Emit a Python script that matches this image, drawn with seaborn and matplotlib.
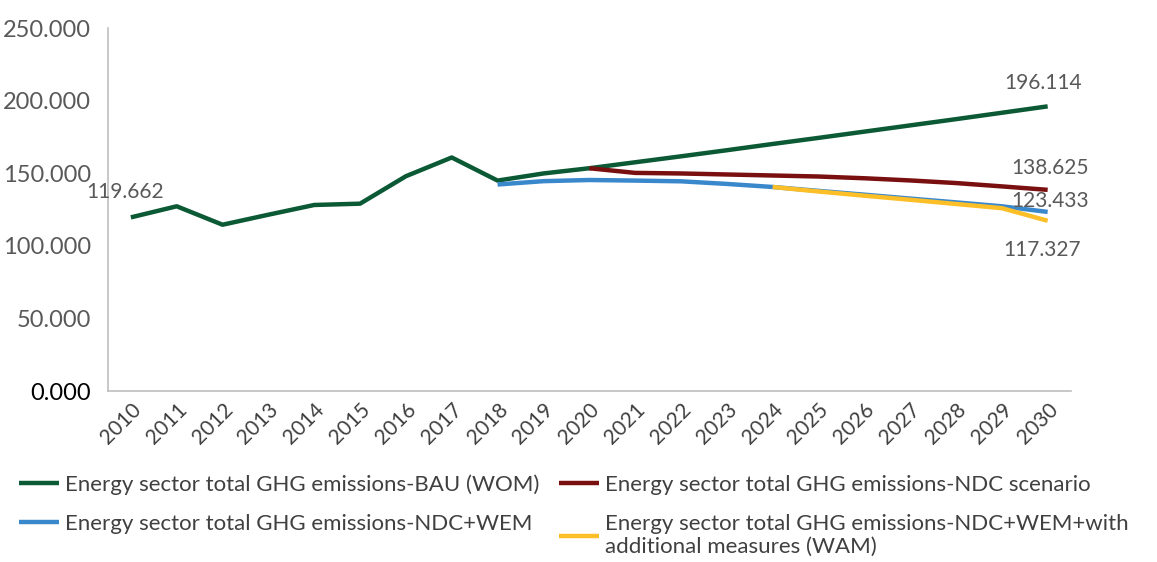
import matplotlib
matplotlib.use("Agg")
import matplotlib.pyplot as plt
import seaborn as sns
import pandas as pd
import numpy as np

# Energy sector GHG emissions by scenario
years = list(range(2010, 2031))
bau = [119.662, 127.3, 114.6, 121.5, 128.2, 129.1, 148.0, 160.9, 145.0, 149.9, 153.5,
       157.6, 161.7, 165.9, 170.2, 174.4, 178.7, 183.0, 187.3, 191.7, 196.114]
ndc_years = list(range(2020, 2031))
ndc = [153.5, 150.3, 149.9, 149.2, 148.5, 147.8, 146.6, 145.1, 143.3, 141.0, 138.625]
wem_years = list(range(2018, 2031))
wem = [142.3, 144.6, 145.4, 145.0, 144.5, 142.7, 140.6, 137.9, 135.3, 132.6, 130.0, 127.3, 123.433]
wam_years = list(range(2024, 2031))
wam = [140.6, 137.5, 134.6, 131.8, 128.9, 126.0, 117.327]

names = [
    "Energy sector total GHG emissions-BAU (WOM)",
    "Energy sector total GHG emissions-NDC scenario",
    "Energy sector total GHG emissions-NDC+WEM",
    "Energy sector total GHG emissions-NDC+WEM+with\nadditional measures (WAM)",
]
colors = ["#0b5a35", "#7a0f10", "#3a88cc", "#fcbf27"]
ytick_vals = [0, 50, 100, 150, 200, 250]

sns.set_theme(style="white")
plt.rcParams["font.family"] = ["Lato", "DejaVu Sans"]

fig = plt.figure(figsize=(11.57, 5.62), dpi=100)
ax = fig.add_axes([0.0933, 0.304, 0.832, 0.646])

series = [(years, bau), (ndc_years, ndc), (wem_years, wem), (wam_years, wam)]
for (xs, ys), name, col in zip(series, names, colors):
    df = pd.DataFrame({"year": xs, "value": ys})
    sns.lineplot(data=df, x="year", y="value", ax=ax, color=col, linewidth=3.2,
                 label=name, solid_capstyle="butt")

ax.set_xlim(2009.5, 2030.5)
ax.set_ylim(0, 250)
ax.set_xticks(years)
ax.set_xticklabels([str(y) for y in years], rotation=45, ha="right",
                   rotation_mode="anchor", fontsize=15, color="#404040")
ax.set_yticks(ytick_vals)
ax.set_yticklabels([f"{v:.3f}" for v in ytick_vals], fontsize=17, color="#595959")
ax.get_yticklabels()[0].set_color("black")
ax.tick_params(axis="x", length=0, pad=6)
ax.tick_params(axis="y", length=0, pad=12)
ax.set_xlabel("")
ax.set_ylabel("")
for side in ["top", "right"]:
    ax.spines[side].set_visible(False)
for side in ["left", "bottom"]:
    ax.spines[side].set_color("#bfbfbf")
    ax.spines[side].set_linewidth(1.2)

# value labels
lab_kw = dict(fontsize=15, color="#595959", ha="center", va="center")
ax.annotate(f"{bau[0]:.3f}", (years[0], bau[0]), xytext=(-4, 18), textcoords="offset points", **lab_kw)
ax.annotate(f"{bau[-1]:.3f}", (years[-1], bau[-1]), xytext=(-3, 17), textcoords="offset points", **lab_kw)
ax.annotate(f"{ndc[-1]:.3f}", (ndc_years[-1], ndc[-1]), xytext=(2, 16), textcoords="offset points", **lab_kw)
ax.annotate(f"{wem[-1]:.3f}", (wem_years[-1], wem[-1]), xytext=(2, 8), textcoords="offset points", **lab_kw)
ax.annotate(f"{wam[-1]:.3f}", (wam_years[-1], wam[-1]), xytext=(-4, -21), textcoords="offset points", **lab_kw)

handles, labels = ax.get_legend_handles_labels()
ax.legend_.remove()
order = [0, 2, 1, 3]
fig.legend([handles[i] for i in order], [labels[i] for i in order], ncol=2,
           loc="upper left", bbox_to_anchor=(0.009, 0.172), frameon=False,
           prop={"size": 16}, labelcolor="#404040",
           handlelength=1.8, handletextpad=0.25, columnspacing=0.9,
           labelspacing=0.85, borderaxespad=0)

fig.savefig("out.png", dpi=100)
